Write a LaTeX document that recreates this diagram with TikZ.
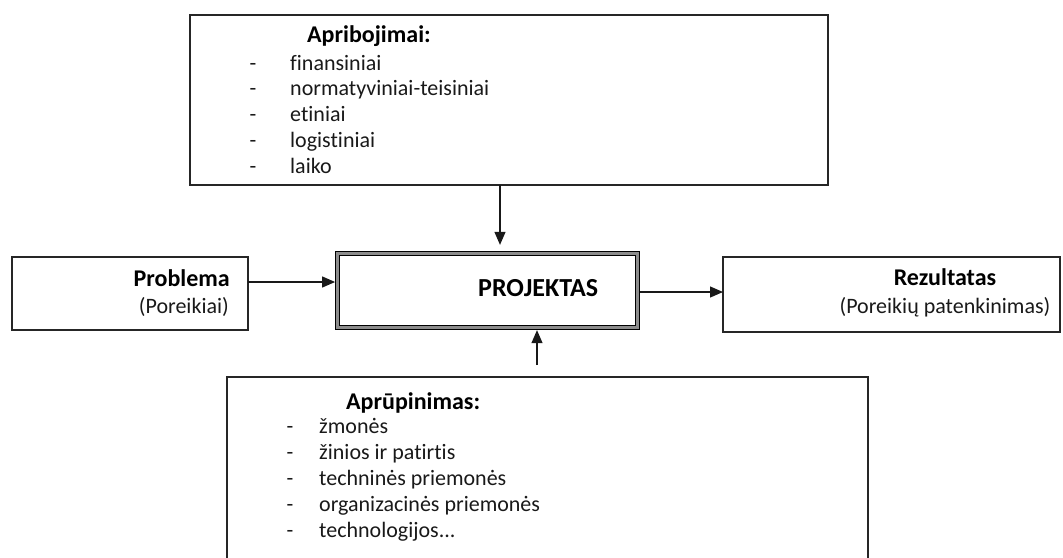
\documentclass[tikz,border=0pt]{standalone}
\usepackage{fontspec}
\setmainfont{Carlito}[Ligatures=NoCommon]
\usetikzlibrary{arrows.meta}
\begin{document}
\begin{tikzpicture}[x=1pt,y=-1pt,
  box/.style={draw=black!85, line width=1.4pt, rectangle, inner sep=0pt, outer sep=0pt},
  projbox/.style={draw=black, line width=1.1pt, double=black!45, double distance=2.6pt, rectangle,
    minimum width=300pt, minimum height=74.5pt, inner sep=0pt, outer sep=2.4pt},
  arr/.style={draw=black!90, line width=1.2pt, -{Triangle[length=13pt,width=11pt]}},
  ttl/.style={font=\fontsize{24}{28}\selectfont\bfseries, inner sep=0pt, text=black},
  itm/.style={font=\fontsize{22}{26}\selectfont, inner sep=0pt, text=black!90},
]
\useasboundingbox (0,0) rectangle (1063,557);
\clip (0,0) rectangle (1063,557);

% boxes
\node[box, minimum width=638pt, minimum height=170pt] (top) at (509,100) {};
\node[box, minimum width=236pt, minimum height=73pt] (prob) at (130,293.5) {};
\node[box, minimum width=337pt, minimum height=75pt] (rez) at (891.5,294.5) {};
\node[box, minimum width=641pt, minimum height=223pt] (bot) at (547.5,488.5) {};
\node[projbox] (proj) at (487.5,290.5) {};

% top box text
\node[ttl, anchor=base west] (ttop) at (307,42) {Apribojimai:};
\foreach \t [count=\i] in {finansiniai, normatyviniai-teisiniai, etiniai, logistiniai, laiko} {
  \node[itm, anchor=base] (da\i) at (253,{70+25.8*(\i-1)}) {-};
  \node[itm, anchor=base west] (ta\i) at (290,{70+25.8*(\i-1)}) {\t};
}

% bottom box text
\node[ttl, anchor=base west] (tbot) at (346,409) {Aprūpinimas:};
\foreach \t [count=\i] in {žmonės, žinios ir patirtis, techninės priemonės, organizacinės priemonės} {
  \node[itm, anchor=base] (db\i) at (290,{433+26*(\i-1)}) {-};
  \node[itm, anchor=base west] (tb\i) at (319,{433+26*(\i-1)}) {\t};
}
\node[itm, anchor=base] (db5) at (290,537) {-};
\node[itm, anchor=base west] (tb5) at (319,537) {technologijos...};

% side texts
\node[ttl, anchor=base east] (tprob) at (230,286) {Problema};
\node[itm, anchor=base east] (tpor) at (229,313) {(Poreikiai)};
\node[ttl, anchor=base] (trez) at (945,285) {Rezultatas};
\node[itm, anchor=base] (tpat) at (945,313) {(Poreikių patenkinimas)};
\node[ttl, font=\fontsize{26}{30}\selectfont\bfseries, anchor=base west] (tproj) at (478,296) {PROJEKTAS};

% connectors
\coordinate (c1) at (500,0);
\draw[arr, shorten >=6pt] (top.south -| c1) -- (proj.north -| c1);
\coordinate (c2) at (0,282);
\draw[arr] (prob.east |- c2) -- (proj.west |- c2);
\coordinate (c3) at (0,292);
\draw[arr] (proj.east |- c3) -- (rez.west |- c3);
\coordinate (c4) at (537,365);
\draw[arr] (c4) -- (proj.south -| c4);
\end{tikzpicture}
\end{document}
